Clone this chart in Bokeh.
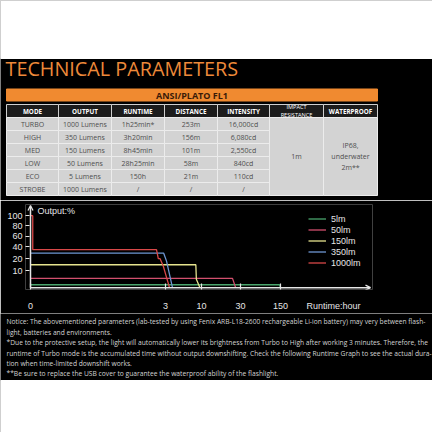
import numpy as np
from bokeh.plotting import figure
from bokeh.layouts import column
from bokeh.models import Range1d, Label, Legend, LegendItem, Arrow, OpenHead, FixedTicker
from bokeh.core.properties import value
from bokeh.embed import file_html
from bokeh.resources import INLINE

# ---------------- data ----------------
title_text = "TECHNICAL PARAMETERS"
banner_text = "ANSI/PLATO FL1"
headers = ["MODE", "OUTPUT", "RUNTIME", "DISTANCE", "INTENSITY", "IMPACT\nRESISTANCE", "WATERPROOF"]
modes = ["TURBO", "HIGH", "MED", "LOW", "ECO", "STROBE"]
outputs = ["1000 Lumens", "350 Lumens", "150 Lumens", "50 Lumens", "5 Lumens", "1000 Lumens"]
runtimes = ["1h25min*", "3h20min", "8h45min", "28h25min", "150h", "/"]
distances = ["253m", "156m", "101m", "58m", "21m", "/"]
intensities = ["16,000cd", "6,080cd", "2,550cd", "840cd", "110cd", "/"]
impact_text = "1m"
waterproof_text = "IP68,\nunderwater\n2m**"

series_names = ["5lm", "50lm", "150lm", "350lm", "1000lm"]
hours_5lm = [0, 147, 150]
pct_5lm = [1.7, 1.7, 0]
hours_50lm = [0, 25.9, 27.5]
pct_50lm = [5.5, 5.5, 0]
hours_150lm = [0, 8.9, 9.0, 9.7]
pct_150lm = [15, 15, 5, 0]
hours_350lm = [0, 2.96, 3.2, 4.36]
pct_350lm = [29, 29, 18, 0]
hours_1000lm = [0, 0.05, 0.05, 2.8, 2.84, 2.88, 2.95, 3.78]
pct_1000lm = [100, 100, 35, 35, 20, 20, 14, 0]

x_tick_hours = [0, 3, 10, 30, 150]
x_tick_labels = ["0", "3", "10", "30", "150"]
x_axis_title = "Runtime:hour"
y_tick_pct = [10, 20, 40, 60, 80, 100]
y_tick_labels = ["10", "20", "40", "60", "80", "100"]
y_axis_title = "Output:%"

notice_lines = [
    "Notice: The abovementioned parameters (lab-tested by using Fenix ARB-L18-2600 rechargeable Li-ion battery) may very between flash-",
    "light, batteries and environments.",
    "*Due to the protective setup, the light will automatically lower its brightness from Turbo to High after working 3 minutes. Therefore, the",
    "runtime of Turbo mode is the accumulated time without output downshifting. Check the following Runtime Graph to see the actual dura-",
    "tion when time-limited downshift works.",
    "**Be sure to replace the USB cover to guarantee the waterproof ability of the flashlight.",
]

# ---------------- style / layout ----------------
ORANGE = "#ee8a3a"
FONT = value("Open Sans")
GFONT = "Liberation Sans"
COL_EDGES = [6, 58, 111, 164, 217, 269, 323, 377]
HEAD_TOP, HEAD_BOT = 104, 117
ROW_H = 13
# broken axes of the runtime graph: break values -> axis units
X_BREAK_POS = [0, 135, 171, 210, 250]
X_TITLE_POS = 303
Y_BREAK_PCT = [0, 10, 20, 40, 60, 80, 100]
Y_BREAK_POS = [0, 18, 31, 44, 55, 66, 77]
line_colors = ["#4aa56c", "#d2506e", "#e6e48e", "#6e96d2", "#d94848"]
AX = "#e6e6e6"


def xs(h):
    return list(np.interp(h, x_tick_hours, X_BREAK_POS))


def ys(p):
    return list(np.interp(p, Y_BREAK_PCT, Y_BREAK_POS))


def no_align(fig):
    try:
        fig.frame_align = False
    except Exception:
        pass


def blank(fig):
    fig.axis.visible = False
    fig.grid.visible = False


# ---------------- top: title + table ----------------
A = figure(width=432, height=200, x_range=Range1d(0, 432), y_range=Range1d(200, 0),
           output_backend="svg", toolbar_location=None, min_border=0,
           background_fill_color="black", border_fill_color="black", outline_line_color=None)
blank(A)
no_align(A)
A.quad(left=[0], right=[432], top=[0], bottom=[58], color="white")
A.text(x=[5], y=[68], text=[title_text], text_font=FONT, text_font_size="19.8px",
       text_color=ORANGE, text_baseline="middle", text_align="left")
A.quad(left=[COL_EDGES[0]], right=[COL_EDGES[-1]], top=[88.5], bottom=[100.5], color="#f08a30")
A.text(x=[(COL_EDGES[0] + COL_EDGES[-1]) / 2], y=[94.5], text=[banner_text], text_font=FONT,
       text_font_size="9px", text_font_style="bold", text_color="#3a1a08",
       text_baseline="middle", text_align="center")

ncol = len(headers)
A.quad(left=COL_EDGES[:-1], right=COL_EDGES[1:], top=[HEAD_TOP] * ncol, bottom=[HEAD_BOT] * ncol,
       fill_color="#1c1c1c", line_color="#cfcfcf", line_width=1)
centers = [(COL_EDGES[i] + COL_EDGES[i + 1]) / 2 for i in range(ncol)]
single = [i for i in range(ncol) if "\n" not in headers[i]]
A.text(x=[centers[i] for i in single], y=[(HEAD_TOP + HEAD_BOT) / 2 + 0.3] * len(single),
       text=[headers[i] for i in single], text_font=FONT, text_font_size="6.3px",
       text_font_style="bold", text_color="white", text_baseline="middle", text_align="center")
multi = [i for i in range(ncol) if "\n" in headers[i]]
A.text(x=[centers[i] for i in multi], y=[(HEAD_TOP + HEAD_BOT) / 2] * len(multi),
       text=[headers[i] for i in multi], text_font=FONT, text_font_size="5.6px",
       text_line_height=0.95, text_color="white", text_baseline="middle", text_align="center")

nrow = len(modes)
body_top = HEAD_BOT
body_bot = body_top + ROW_H * nrow
cols = [modes, outputs, runtimes, distances, intensities]
L, R, T, Bt = [], [], [], []
for c in range(len(cols)):
    for r in range(nrow):
        L.append(COL_EDGES[c]); R.append(COL_EDGES[c + 1])
        T.append(body_top + r * ROW_H); Bt.append(body_top + (r + 1) * ROW_H)
for c in (5, 6):
    L.append(COL_EDGES[c]); R.append(COL_EDGES[c + 1]); T.append(body_top); Bt.append(body_bot)
A.quad(left=L, right=R, top=T, bottom=Bt, fill_color="#d3d3d3", line_color="#ececec", line_width=1)
tx, ty, tt = [], [], []
for c, colvals in enumerate(cols):
    for r, v in enumerate(colvals):
        tx.append(centers[c]); ty.append(body_top + (r + 0.5) * ROW_H); tt.append(v)
A.text(x=tx, y=ty, text=tt, text_font=FONT, text_font_size="7px", text_color="#4e4e4e",
       text_baseline="middle", text_align="center")
A.text(x=[centers[5], centers[6]], y=[(body_top + body_bot) / 2] * 2,
       text=[impact_text, waterproof_text], text_font=FONT, text_font_size="7px",
       text_line_height=1.2, text_color="#4e4e4e", text_baseline="middle", text_align="center")

# ---------------- middle: runtime graph ----------------
# frame: page x 25..372, page y 204..295 ; data (0,0) sits at page (30, 293)
B = figure(width=432, height=113, x_range=Range1d(-5, 342), y_range=Range1d(-2, 89),
           output_backend="svg", toolbar_location=None,
           min_border_left=25, min_border_right=60, min_border_top=4, min_border_bottom=18,
           background_fill_color="black", border_fill_color="black", outline_line_color=None)
B.grid.visible = False
no_align(B)
xpos = [int(round(v)) for v in xs(x_tick_hours)]
ypos = [int(round(v)) for v in ys(y_tick_pct)]
for ax in B.xaxis:
    ax.ticker = FixedTicker(ticks=xpos + [X_TITLE_POS], minor_ticks=xpos)
    ov = {p: l for p, l in zip(xpos, x_tick_labels)}
    ov[X_TITLE_POS] = x_axis_title
    ax.major_label_overrides = ov
    ax.major_tick_line_color = None
    ax.minor_tick_in = 6
    ax.minor_tick_out = 0
    ax.minor_tick_line_color = AX
    ax.minor_tick_line_width = 1.2
    ax.major_label_standoff = 5
for ax in B.yaxis:
    ax.ticker = FixedTicker(ticks=ypos)
    ax.major_label_overrides = {p: l for p, l in zip(ypos, y_tick_labels)}
    ax.major_tick_in = 4
    ax.major_tick_out = 0
    ax.major_tick_line_color = AX
    ax.major_tick_line_width = 1.2
    ax.minor_tick_line_color = None
    ax.major_label_standoff = 3
for ax in B.axis:
    ax.axis_line_color = None
    ax.major_label_text_color = AX
    ax.major_label_text_font = GFONT
    ax.major_label_text_font_size = "9px"

hours_all = [hours_5lm, hours_50lm, hours_150lm, hours_350lm, hours_1000lm]
pct_all = [pct_5lm, pct_50lm, pct_150lm, pct_350lm, pct_1000lm]
items = []
for name, h, p, col in zip(series_names, hours_all, pct_all, line_colors):
    r = B.line(xs(h), ys(p), line_color=col, line_width=1.3)
    items.append(LegendItem(label=name, renderers=[r]))
legend = Legend(items=items, location=(283, 21), background_fill_alpha=0, border_line_color=None,
                label_text_color=AX, label_text_font=GFONT, label_text_font_size="9px",
                glyph_width=18, glyph_height=11, label_height=11, spacing=0, padding=0,
                margin=0, label_standoff=5)
B.add_layout(legend)

B.add_layout(Arrow(end=OpenHead(size=5, line_color=AX, line_width=1.3), x_start=0, y_start=0,
                   x_end=340, y_end=0, line_color=AX, line_width=1.5))
B.add_layout(Arrow(end=OpenHead(size=5, line_color=AX, line_width=1.3), x_start=0, y_start=0,
                   x_end=0, y_end=88, line_color=AX, line_width=1.5))
B.add_layout(Label(x=7, y=82, text=y_axis_title, text_font=GFONT, text_font_size="9px",
                   text_color=AX, text_baseline="middle"))

# ---------------- bottom: notice ----------------
C = figure(width=432, height=119, x_range=Range1d(0, 432), y_range=Range1d(119, 0),
           output_backend="svg", toolbar_location=None, min_border=0,
           background_fill_color="black", border_fill_color="black", outline_line_color=None)
blank(C)
no_align(C)
C.quad(left=[0], right=[432], top=[67], bottom=[119], color="white")
C.text(x=[6] * len(notice_lines), y=[8, 19, 29, 40, 50, 60], text=notice_lines, text_font=FONT,
       text_font_size="6.7px", text_color="#d4d4d4", text_baseline="middle", text_align="left")

page = column(A, B, C, spacing=0)
open("out.html", "w").write(file_html(page, INLINE))
